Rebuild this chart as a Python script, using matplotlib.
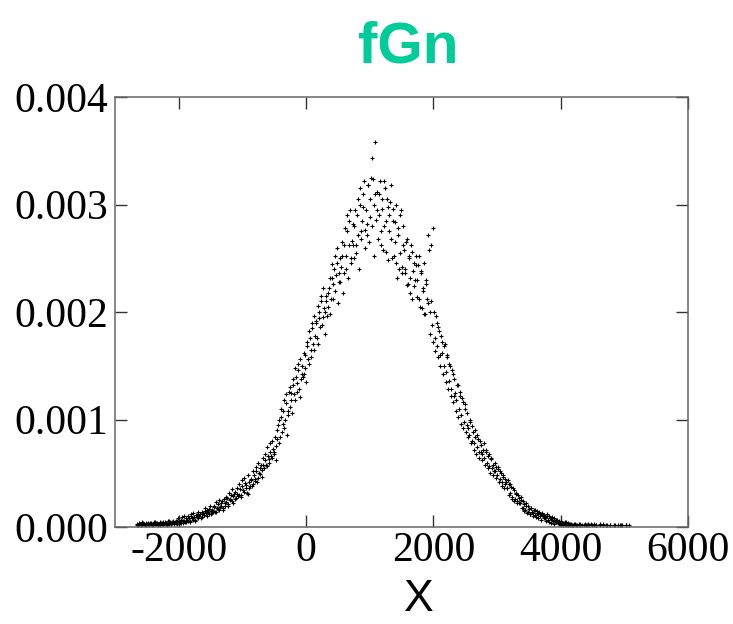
import numpy as np
import matplotlib
matplotlib.use("Agg")
import matplotlib.pyplot as plt

# histogram of the fGn sample: bin width, first bin centres, densities (x 1e-5)
bin_width = 20
start_a = -2660
start_b = -2650
density_a_e5 = [
    3, 2, 3, 3, 2, 4, 3, 2, 3, 4,
    3, 4, 2, 3, 5, 3, 4, 3, 2, 4,
    4, 3, 5, 4, 3, 6, 4, 3, 5, 4,
    5, 4, 6, 3, 5, 7, 4, 6, 5, 8,
    6, 8, 5, 10, 7, 9, 6, 11, 8, 10,
    12, 9, 13, 11, 15, 10, 14, 17, 12, 16,
    15, 19, 14, 18, 21, 16, 20, 24, 18, 22,
    23, 27, 21, 26, 30, 24, 29, 33, 27, 31,
    30, 35, 28, 38, 33, 41, 36, 31, 42, 38,
    44, 40, 48, 43, 52, 46, 50, 55, 47, 58,
    55, 62, 57, 66, 60, 70, 64, 73, 68, 62,
    82, 95, 78, 102, 88, 108, 92, 115, 86, 104,
    112, 125, 106, 132, 118, 140, 126, 146, 121, 138,
    150, 142, 160, 135, 168, 152, 176, 158, 185, 165,
    178, 192, 170, 200, 186, 210, 195, 204, 180, 215,
    205, 222, 198, 232, 212, 240, 220, 246, 208, 236,
    228, 252, 218, 262, 240, 275, 232, 285, 246, 266,
    262, 280, 255, 290, 272, 300, 268, 285, 310, 276,
    295, 272, 318, 288, 325, 343, 300, 358, 286, 312,
    290, 322, 262, 305, 280, 315, 256, 298, 275, 302,
    268, 296, 252, 284, 246, 278, 240, 290, 236, 262,
    258, 236, 268, 226, 250, 218, 256, 238, 224, 244,
    230, 244, 212, 236, 204, 222, 198, 226, 212, 272,
    200, 262, 188, 278, 176, 196, 168, 186, 160, 178,
    162, 150, 170, 144, 158, 136, 150, 128, 142, 122,
    125, 118, 132, 110, 122, 104, 116, 98, 110, 95,
    92, 86, 98, 80, 88, 78, 84, 74, 82, 70,
    76, 68, 72, 64, 70, 60, 66, 57, 63, 55,
    58, 52, 56, 48, 54, 45, 50, 42, 47, 40,
    42, 36, 40, 32, 37, 28, 34, 26, 31, 24,
    27, 22, 25, 18, 21, 16, 20, 14, 17, 12,
    18, 13, 16, 11, 15, 12, 14, 10, 13, 11,
    11, 8, 12, 7, 10, 8, 9, 6, 8, 7,
    7, 5, 3, 6, 4, 3, 5, 2, 3, 4,
    2, 3, 2, 0, 3, 2, 0, 2, 3, 0,
    2, 0, 3, 2, 0, 2, 0, 3, 0, 2,
    0, 2, 0, 0, 3, 0, 2, 0, 0, 2,
    0, 0, 2, 0, 0, 2, 0, 0, 2, 0,
    0, 2, 0, 0, 2, 0, 0, 2, 0, 0,
]
density_b_e5 = [
    2, 4, 3, 2, 5, 3, 2, 4, 3, 2,
    4, 3, 2, 5, 3, 4, 2, 3, 5, 3,
    5, 3, 4, 2, 6, 3, 5, 4, 6, 3,
    6, 3, 8, 5, 4, 9, 6, 10, 5, 7,
    10, 6, 12, 8, 13, 7, 11, 9, 14, 12,
    8, 14, 11, 18, 13, 16, 12, 20, 15, 13,
    20, 14, 23, 17, 25, 19, 22, 16, 26, 20,
    28, 20, 32, 25, 35, 22, 31, 26, 36, 29,
    40, 30, 44, 34, 46, 39, 32, 48, 36, 45,
    38, 52, 45, 56, 42, 60, 49, 58, 53, 64,
    68, 58, 74, 63, 78, 66, 80, 70, 84, 75,
    90, 100, 84, 110, 96, 118, 100, 124, 108, 126,
    130, 118, 138, 124, 148, 134, 152, 128, 156, 142,
    140, 162, 148, 172, 156, 182, 165, 190, 170, 196,
    190, 176, 206, 194, 215, 188, 222, 200, 210, 196,
    218, 232, 212, 245, 226, 252, 234, 260, 228, 250,
    242, 265, 236, 278, 252, 290, 262, 295, 250, 282,
    250, 295, 262, 305, 240, 315, 275, 298, 322, 260,
    282, 318, 265, 305, 280, 324, 252, 310, 295, 268,
    310, 275, 296, 258, 322, 285, 305, 248, 290, 318,
    250, 285, 265, 300, 232, 272, 255, 295, 242, 280,
    240, 265, 225, 252, 232, 262, 212, 246, 230, 252,
    214, 252, 205, 238, 220, 246, 198, 230, 208, 258,
    180, 210, 172, 200, 164, 190, 158, 182, 150, 172,
    142, 168, 135, 160, 128, 152, 122, 146, 116, 138,
    108, 132, 102, 126, 96, 120, 92, 114, 88, 106,
    84, 100, 78, 94, 72, 90, 68, 86, 64, 80,
    70, 62, 78, 58, 72, 55, 68, 50, 64, 48,
    52, 60, 46, 56, 42, 52, 38, 48, 36, 45,
    36, 44, 30, 40, 26, 36, 24, 32, 22, 30,
    22, 28, 18, 24, 15, 22, 13, 20, 12, 18,
    14, 10, 16, 9, 13, 8, 12, 7, 11, 8,
    9, 6, 10, 5, 8, 4, 7, 3, 6, 5,
    4, 6, 3, 5, 2, 4, 3, 5, 2, 3,
    3, 0, 2, 3, 0, 2, 0, 3, 2, 0,
    0, 2, 0, 2, 3, 0, 0, 2, 0, 3,
    2, 0, 0, 2, 0, 0, 3, 0, 2, 0,
    0, 2, 0, 0, 0, 2, 0, 0, 0, 2,
    2, 0, 0, 0, 2, 0, 0, 0, 0, 0,
]
x_ticks = [-2000, 0, 2000, 4000, 6000]
y_ticks = [0.000, 0.001, 0.002, 0.003, 0.004]

fig = plt.figure(figsize=(7.33, 6.24), dpi=100)
ax = fig.add_axes([0.157, 0.1554, 0.7817, 0.6891])

for start, vals in [(start_a, density_a_e5), (start_b, density_b_e5)]:
    dens = np.array(vals) * 1e-5
    xs = start + bin_width * np.arange(len(dens))
    keep = dens > 0
    ax.plot(xs[keep], dens[keep], linestyle="none", marker="+",
            markersize=3, markeredgewidth=0.8, color="black")

ax.set_xlim(-3000, 6000)
ax.set_ylim(0, 0.004)
ax.set_xticks(x_ticks)
ax.set_yticks(y_ticks)
ax.set_xticklabels([str(v) for v in x_ticks])
ax.set_yticklabels([f"{v:.3f}" for v in y_ticks])

for s in ax.spines.values():
    s.set_color("#666666")
    s.set_linewidth(1.1)
ax.tick_params(direction="in", length=8.5, width=1, color="#333333",
               top=True, right=True, labelsize=30, pad=5)
ax.tick_params(axis="x", pad=3)
for lab in ax.get_xticklabels() + ax.get_yticklabels():
    lab.set_family("Liberation Serif")

fig.text(0.557, 0.9006, "fGn", ha="center", va="baseline", fontsize=42,
         fontweight="bold", color="#00CC99", family="Liberation Sans")
fig.text(0.5716, 0.021, "X", ha="center", va="baseline", fontsize=32,
         family="Liberation Sans")

fig.savefig("out.png", dpi=100)
